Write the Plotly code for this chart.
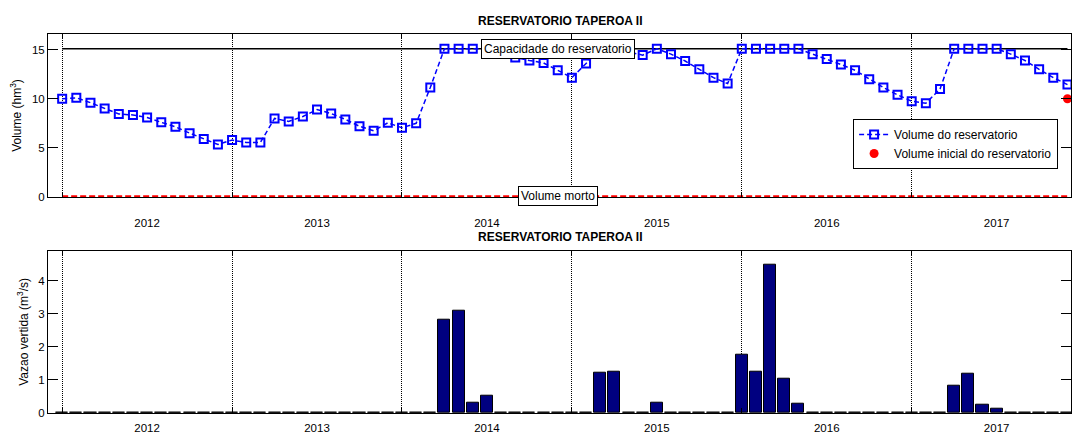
import plotly.graph_objects as go

# ---------------- data ----------------
years = [2012, 2013, 2014, 2015, 2016, 2017]
months_per_year = 12
month_idx = list(range(1, len(years) * months_per_year + 1))  # 1..72

volume = [
    10.0, 10.1, 9.6, 9.0, 8.45, 8.35, 8.1, 7.6, 7.15, 6.5, 5.9, 5.35,
    5.8, 5.55, 5.55, 8.0, 7.7, 8.2, 8.9, 8.5, 7.9, 7.2, 6.75, 7.55,
    7.05, 7.5, 11.15, 15.1, 15.1, 15.1, 15.1, 14.6, 14.2, 13.9, 13.65, 12.9,
    12.15, 13.6, 15.1, 15.1, 14.8, 14.45, 15.1, 14.55, 13.85, 13.0, 12.15, 11.55,
    15.1, 15.1, 15.1, 15.1, 15.1, 14.55, 14.05, 13.5, 12.9, 12.0, 11.15, 10.4,
    9.75, 9.55, 11.0, 15.1, 15.1, 15.1, 15.1, 14.55, 13.9, 13.0, 12.15, 11.45,
]

spill = [
    0, 0, 0, 0, 0, 0, 0, 0, 0, 0, 0, 0,
    0, 0, 0, 0, 0, 0, 0, 0, 0, 0, 0, 0,
    0, 0, 0, 2.83, 3.08, 0.32, 0.53, 0, 0, 0, 0, 0,
    0, 0, 1.22, 1.25, 0, 0, 0.32, 0, 0, 0, 0, 0,
    1.75, 1.24, 4.48, 1.04, 0.29, 0, 0, 0, 0, 0, 0, 0,
    0, 0, 0, 0.83, 1.18, 0.26, 0.12, 0, 0, 0, 0, 0,
]

capacity = 15.1
dead_volume = 0.08
initial_volume = 10.0

title_text = "RESERVATORIO TAPEROA II"
capacity_label = "Capacidade do reservatorio"
dead_label = "Volume morto"

# year boundaries and label positions
year_starts = [1 + k * months_per_year for k in range(len(years))]
year_mid = [s + 6 for s in year_starts]
year_text = [str(y) for y in years]

FONT = "Liberation Sans, Arial, sans-serif"
TICK_FS = 11.5
LABEL_FS = 12

fig = go.Figure()

# ---------------- top panel ----------------
fig.add_trace(go.Scatter(
    x=[month_idx[0], month_idx[-1]], y=[capacity, capacity], mode="lines",
    line=dict(color="black", width=1.5), showlegend=False, hoverinfo="skip",
    xaxis="x", yaxis="y"))
fig.add_trace(go.Scatter(
    x=[month_idx[0], month_idx[-1]], y=[dead_volume, dead_volume], mode="lines",
    line=dict(color="red", width=2, dash="6px,3px"), showlegend=False, hoverinfo="skip",
    xaxis="x", yaxis="y"))
fig.add_trace(go.Scatter(
    x=month_idx, y=volume, mode="lines+markers", name="Volume do reservatorio",
    line=dict(color="blue", width=1.5, dash="5px,3px"),
    marker=dict(symbol="square-open", size=8, color="blue", line=dict(width=2, color="blue")),
    xaxis="x", yaxis="y"))
fig.add_trace(go.Scatter(
    x=[month_idx[-1]], y=[initial_volume], mode="markers", name="Volume inicial do reservatorio",
    marker=dict(symbol="circle", size=9, color="red"),
    xaxis="x", yaxis="y"))

# ---------------- bottom panel ----------------
fig.add_trace(go.Bar(
    x=month_idx, y=spill, width=0.85, showlegend=False,
    marker=dict(color="#000080", line=dict(color="black", width=1)),
    xaxis="x2", yaxis="y2"))

xcommon = dict(
    range=[0, 72.25], showline=True, linecolor="black", linewidth=1, mirror="allticks",
    tickmode="array", tickvals=year_mid, ticktext=year_text, ticks="",
    showgrid=False, zeroline=False, automargin=False,
    tickfont=dict(family=FONT, size=TICK_FS, color="black"),
    minor=dict(tickmode="array", tickvals=year_starts, ticks="inside", ticklen=5,
               tickcolor="black", showgrid=True, gridcolor="black", griddash="1px,1px",
               gridwidth=1),
)
ycommon = dict(
    showline=True, linecolor="black", linewidth=1, mirror="allticks",
    ticks="inside", ticklen=10, tickcolor="black", showgrid=False, zeroline=False,
    tickfont=dict(family=FONT, size=TICK_FS, color="black"), automargin=False,
)

fig.update_layout(
    width=1073, height=433,
    margin=dict(l=48, r=2, t=34, b=20, autoexpand=False),
    paper_bgcolor="white", plot_bgcolor="white",
    font=dict(family=FONT, size=TICK_FS, color="black"),
    xaxis=dict(domain=[0, 1], anchor="y", ticklabelstandoff=15, **xcommon),
    yaxis=dict(domain=[0.57, 1.0], anchor="x", range=[0, 16.6], tickvals=[0, 5, 10, 15],
               title=dict(text="Volume (hm<sup>3</sup>)", standoff=7,
                         font=dict(family=FONT, size=LABEL_FS, color="black")),
               **ycommon),
    xaxis2=dict(domain=[0, 1], anchor="y2", ticklabelstandoff=4, **xcommon),
    yaxis2=dict(domain=[0.0, 0.4282], anchor="x2", range=[0, 4.9], tickvals=[0, 1, 2, 3, 4],
                title=dict(text="Vazao vertida (m<sup>3</sup>/s)", standoff=7,
                          font=dict(family=FONT, size=LABEL_FS, color="black")),
                **ycommon),
    legend=dict(x=0.787, y=0.7757, xanchor="left", yanchor="top",
                bgcolor="white", bordercolor="black", borderwidth=1,
                font=dict(family=FONT, size=12, color="black"), itemwidth=30,
                tracegroupgap=0),
    bargap=0,
    showlegend=True,
)

fig.add_annotation(text="<b>" + title_text + "</b>", xref="x domain", yref="y domain",
                   x=0.5, y=1, yanchor="middle", yshift=13, showarrow=False,
                   font=dict(family=FONT, size=12, color="black"))
fig.add_annotation(text="<b>" + title_text + "</b>", xref="x2 domain", yref="y2 domain",
                   x=0.5, y=1, yanchor="middle", yshift=14, showarrow=False,
                   font=dict(family=FONT, size=12, color="black"))
fig.add_annotation(text=capacity_label, xref="x", yref="y", x=36, y=capacity,
                   showarrow=False, bgcolor="white", bordercolor="black", borderwidth=1,
                   borderpad=2, font=dict(family=FONT, size=12, color="black"))
fig.add_annotation(text=dead_label, xref="x", yref="y", x=36, y=dead_volume,
                   showarrow=False, bgcolor="white", bordercolor="black", borderwidth=1,
                   borderpad=2, font=dict(family=FONT, size=12, color="black"))

fig.write_html("out.html", config={"displayModeBar": False},
               post_script="document.body.style.margin='0';document.body.style.padding='0';")
